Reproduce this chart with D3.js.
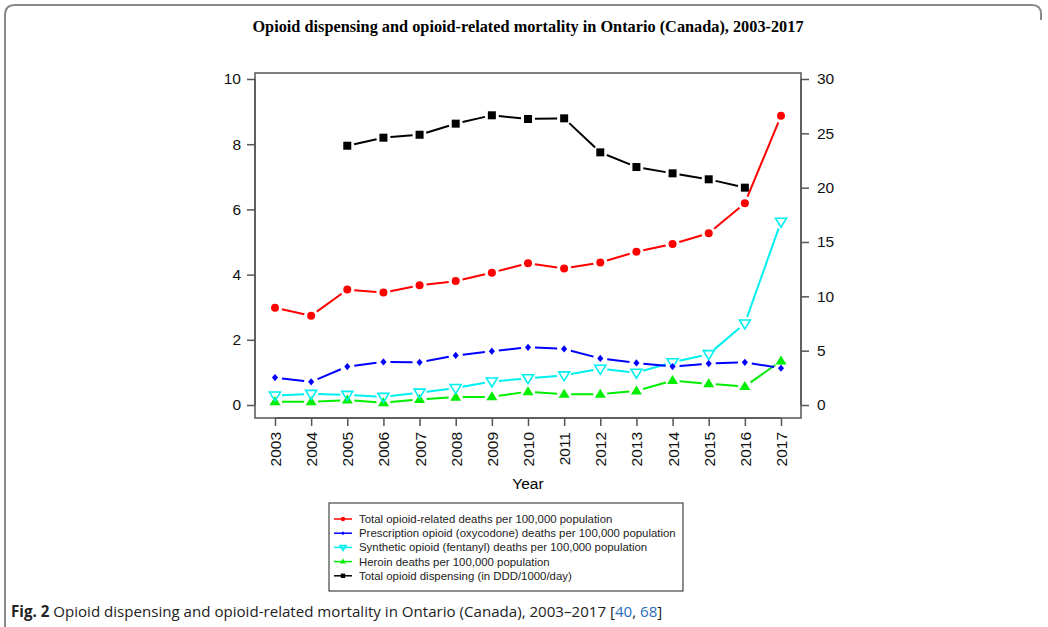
<!DOCTYPE html>
<html>
<head>
<meta charset="utf-8">
<script src="https://cdn.jsdelivr.net/npm/d3@7"></script>
<style>
  body { margin: 0; background: #fff; }
  svg { display: block; }
</style>
</head>
<body>
<svg id="canvas" width="1048" height="627"></svg>
<script>
let years = [2003, 2004, 2005, 2006, 2007, 2008, 2009, 2010, 2011, 2012, 2013, 2014, 2015, 2016, 2017]

// deaths per 100,000 (left axis)
let totalDeaths = [2.98, 2.74, 3.54, 3.45, 3.67, 3.80, 4.06, 4.35, 4.19, 4.37, 4.70, 4.94, 5.27, 6.19, 8.87]
let oxycodoneDeaths = [0.84, 0.71, 1.18, 1.32, 1.31, 1.52, 1.65, 1.77, 1.72, 1.43, 1.29, 1.18, 1.27, 1.31, 1.13]
let fentanylDeaths = [0.29, 0.34, 0.31, 0.25, 0.38, 0.52, 0.72, 0.82, 0.91, 1.11, 0.99, 1.31, 1.56, 2.50, 5.62]
let heroinDeaths = [0.10, 0.10, 0.15, 0.07, 0.17, 0.24, 0.25, 0.41, 0.33, 0.33, 0.43, 0.75, 0.65, 0.57, 1.35]

// DDD/1000/day (right axis), data starts 2005
let dispensing = [null, null, 23.86, 24.6, 24.87, 25.89, 26.66, 26.32, 26.38, 23.25, 21.9, 21.32, 20.77, 20.0, null]

let leftTicks = [0, 2, 4, 6, 8, 10]
let rightTicks = [0, 5, 10, 15, 20, 25, 30]

let legendLabels = [
  'Total opioid-related deaths per 100,000 population',
  'Prescription opioid (oxycodone) deaths per 100,000 population',
  'Synthetic opioid (fentanyl) deaths per 100,000 population',
  'Heroin deaths per 100,000 population',
  'Total opioid dispensing (in DDD/1000/day)'
]

let canvas = d3.select('#canvas')

// outer figure frame
canvas.append('path')
      .attr('d', 'M5,627 L5,15 Q5,5 15,5 L1032,5 Q1041,5 1041,14 L1041,20')
      .attr('fill', 'none')
      .attr('stroke', '#8a8a8a')
      .attr('stroke-width', 2)

canvas.append('text')
      .text('Opioid dispensing and opioid-related mortality in Ontario (Canada), 2003-2017')
      .attr('x', 528)
      .attr('y', 32)
      .attr('text-anchor', 'middle')
      .style('font-family', '"Liberation Serif", "Times New Roman", serif')
      .style('font-weight', 'bold')
      .style('font-size', '16.3px')

let box = { left: 255, right: 801, top: 73, bottom: 418 }

let xScale = d3.scaleLinear()
               .domain([2003, 2017])
               .range([275, 781])

let yLeft = d3.scaleLinear()
              .domain([0, 10])
              .range([405, 79])

let yRight = d3.scaleLinear()
               .domain([0, 30])
               .range([405, 79])

canvas.append('rect')
      .attr('x', box.left)
      .attr('y', box.top)
      .attr('width', box.right - box.left)
      .attr('height', box.bottom - box.top)
      .attr('fill', 'none')
      .attr('stroke', '#555')
      .attr('stroke-width', 1.5)

let tickFont = (sel) => {
  sel.selectAll('text')
     .style('font-family', '"Liberation Sans", Arial, sans-serif')
     .style('font-size', '15.5px')
     .attr('fill', '#111')
  sel.selectAll('line').attr('stroke', '#555').attr('stroke-width', 1.5)
  sel.select('.domain').attr('stroke', '#555').attr('stroke-width', 1.5)
}

let leftAxis = canvas.append('g')
                     .attr('transform', 'translate(' + box.left + ',0)')
                     .call(d3.axisLeft(yLeft).tickValues(leftTicks).tickSize(8).tickPadding(6).tickSizeOuter(0))
leftAxis.select('.domain').attr('d', 'M0,' + yLeft(0) + 'V' + yLeft(10))
tickFont(leftAxis)

let rightAxis = canvas.append('g')
                      .attr('transform', 'translate(' + box.right + ',0)')
                      .call(d3.axisRight(yRight).tickValues(rightTicks).tickSize(8).tickPadding(8).tickSizeOuter(0))
rightAxis.select('.domain').attr('d', 'M0,' + yRight(0) + 'V' + yRight(30))
tickFont(rightAxis)

let bottomAxis = canvas.append('g')
                       .attr('transform', 'translate(0,' + box.bottom + ')')
                       .call(d3.axisBottom(xScale).tickValues(years).tickFormat(d3.format('d')).tickSize(8).tickSizeOuter(0))
bottomAxis.select('.domain').attr('d', 'M' + xScale(2003) + ',0H' + xScale(2017))
tickFont(bottomAxis)
bottomAxis.selectAll('text')
          .attr('transform', 'rotate(-90)')
          .attr('x', -14)
          .attr('y', 0)
          .attr('dy', '0.35em')
          .attr('text-anchor', 'end')

canvas.append('text')
      .text('Year')
      .attr('x', 528)
      .attr('y', 489)
      .attr('text-anchor', 'middle')
      .style('font-family', '"Liberation Sans", Arial, sans-serif')
      .style('font-size', '15.5px')

// symbols
let drawMarker = (g, kind, color, x, y, scale) => {
  let s = scale || 1
  if (kind === 'circle') {
    g.append('circle').attr('cx', x).attr('cy', y).attr('r', 4 * s).attr('fill', color)
  } else if (kind === 'diamond') {
    let h = 3.6 * s
    g.append('path')
     .attr('d', 'M' + x + ',' + (y - h) + 'L' + (x + h * 0.85) + ',' + y + 'L' + x + ',' + (y + h) + 'L' + (x - h * 0.85) + ',' + y + 'Z')
     .attr('fill', color)
  } else if (kind === 'tridown') {
    let h = 5 * s
    g.append('path')
     .attr('d', 'M' + (x - h * 1.1) + ',' + (y - h * 0.7) + 'L' + (x + h * 1.1) + ',' + (y - h * 0.7) + 'L' + x + ',' + (y + h * 1.1) + 'Z')
     .attr('fill', 'none').attr('stroke', color).attr('stroke-width', 1.6)
  } else if (kind === 'triup') {
    let h = 5 * s
    g.append('path')
     .attr('d', 'M' + (x - h * 1.1) + ',' + (y + h * 0.7) + 'L' + (x + h * 1.1) + ',' + (y + h * 0.7) + 'L' + x + ',' + (y - h * 1.1) + 'Z')
     .attr('fill', color)
  } else if (kind === 'square') {
    g.append('rect').attr('x', x - 4 * s).attr('y', y - 4 * s).attr('width', 8 * s).attr('height', 8 * s).attr('fill', color)
  }
}

let seriesList = [
  { values: dispensing, scale: yRight, color: '#000000', marker: 'square' },
  { values: heroinDeaths, scale: yLeft, color: '#00ee00', marker: 'triup' },
  { values: fentanylDeaths, scale: yLeft, color: '#00f0f0', marker: 'tridown' },
  { values: oxycodoneDeaths, scale: yLeft, color: '#0000ff', marker: 'diamond' },
  { values: totalDeaths, scale: yLeft, color: '#ff0000', marker: 'circle' }
]

// type "b": line segments with a gap around each point
let gap = 7
seriesList.forEach((series) => {
  let g = canvas.append('g')
  let pts = years.map((yr, i) => {
    let v = series.values[i]
    return v === null ? null : [xScale(yr), series.scale(v)]
  })
  for (let i = 0; i < pts.length - 1; i++) {
    let a = pts[i]
    let b = pts[i + 1]
    if (!a || !b) continue
    let dx = b[0] - a[0]
    let dy = b[1] - a[1]
    let len = Math.sqrt(dx * dx + dy * dy)
    if (len <= 2 * gap) continue
    let ux = dx / len
    let uy = dy / len
    g.append('line')
     .attr('x1', a[0] + ux * gap).attr('y1', a[1] + uy * gap)
     .attr('x2', b[0] - ux * gap).attr('y2', b[1] - uy * gap)
     .attr('stroke', series.color)
     .attr('stroke-width', 2)
  }
  pts.forEach((p) => {
    if (p) drawMarker(g, series.marker, series.color, p[0], p[1])
  })
})

// legend
let legendOrder = [
  { color: '#ff0000', marker: 'circle' },
  { color: '#0000ff', marker: 'diamond' },
  { color: '#00f0f0', marker: 'tridown' },
  { color: '#00ee00', marker: 'triup' },
  { color: '#000000', marker: 'square' }
]

let legend = canvas.append('g')
legend.append('rect')
      .attr('x', 329)
      .attr('y', 503)
      .attr('width', 354)
      .attr('height', 88)
      .attr('fill', 'white')
      .attr('stroke', '#444')
      .attr('stroke-width', 1.2)

legendLabels.forEach((label, i) => {
  let y = 519 + i * 14.2
  let item = legendOrder[i]
  legend.append('line')
        .attr('x1', 334).attr('x2', 352)
        .attr('y1', y).attr('y2', y)
        .attr('stroke', item.color).attr('stroke-width', 1.5)
  drawMarker(legend, item.marker, item.color, 343, y, 0.55)
  legend.append('text')
        .text(label)
        .attr('x', 359)
        .attr('y', y)
        .attr('dy', '0.35em')
        .style('font-family', '"Liberation Sans", Arial, sans-serif')
        .style('font-size', '11.4px')
        .attr('fill', '#222')
})

// caption
let caption = canvas.append('text')
                    .attr('x', 11)
                    .attr('y', 617)
                    .style('font-family', '"Open Sans", "Noto Sans", sans-serif')
                    .style('font-size', '15.1px')
                    .attr('fill', '#222')
caption.append('tspan').text('Fig. 2').style('font-weight', 'bold')
caption.append('tspan').text(' Opioid dispensing and opioid-related mortality in Ontario (Canada), 2003\u20132017 [')
caption.append('tspan').text('40').attr('fill', '#2a6ebb')
caption.append('tspan').text(', ')
caption.append('tspan').text('68').attr('fill', '#2a6ebb')
caption.append('tspan').text(']')
</script>
</body>
</html>
